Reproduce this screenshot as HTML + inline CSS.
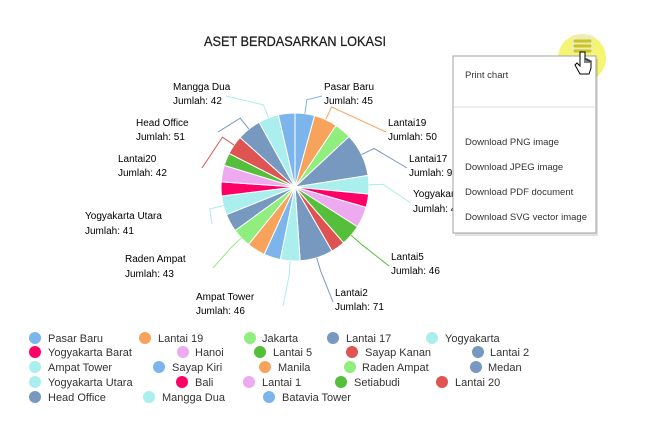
<!DOCTYPE html>
<html><head><meta charset="utf-8"><style>
body{margin:0;width:646px;height:422px;background:#fff;overflow:hidden;font-family:"Liberation Sans",sans-serif;}
svg{position:absolute;left:0;top:0}
</style></head><body>
<svg width="646" height="422" viewBox="0 0 646 422" xmlns="http://www.w3.org/2000/svg" font-family="Liberation Sans, sans-serif">
<text x="295" y="46" text-anchor="middle" font-size="14" fill="#222" stroke="#222" stroke-width="0.3" textLength="182" lengthAdjust="spacingAndGlyphs">ASET BERDASARKAN LOKASI</text>
<g id="pie"></g>
<g id="conn" fill="none" stroke-width="1"></g>
<g font-size="10" fill="#000">
<text x="173" y="90">Mangga Dua</text><text x="173" y="104">Jumlah: 42</text>
<text x="324" y="90">Pasar Baru</text><text x="324" y="104">Jumlah: 45</text>
<text x="388" y="126">Lantai19</text><text x="388" y="140">Jumlah: 50</text>
<text x="409" y="162">Lantai17</text><text x="409" y="176">Jumlah: 91</text>
<text x="413" y="197">Yogyakarta</text><text x="413" y="212">Jumlah: 45</text>
<text x="391" y="260">Lantai5</text><text x="391" y="274">Jumlah: 46</text>
<text x="335" y="296">Lantai2</text><text x="335" y="310">Jumlah: 71</text>
<text x="196" y="300">Ampat Tower</text><text x="196" y="314">Jumlah: 46</text>
<text x="125" y="262">Raden Ampat</text><text x="125" y="277">Jumlah: 43</text>
<text x="85" y="219">Yogyakarta Utara</text><text x="85" y="234">Jumlah: 41</text>
<text x="118" y="162">Lantai20</text><text x="118" y="176">Jumlah: 42</text>
<text x="136" y="126">Head Office</text><text x="136" y="140">Jumlah: 51</text>
</g>
<g id="legend" font-size="11" fill="#333"></g>
<circle cx="582" cy="58" r="24" fill="#f4f25a" opacity="0.85"/>
<rect x="572" y="35" width="21" height="18" fill="#e6e6e6" opacity="0.6"/>
<rect x="455" y="59" width="143" height="177" fill="#000" opacity="0.12"/>
<rect x="453" y="56" width="143" height="177" fill="#fff" stroke="#a0a0a0"/>
<line x1="454" y1="107" x2="595" y2="107" stroke="#ddd"/>
<g font-size="9.5" fill="#333">
<text x="465" y="78">Print chart</text>
<text x="465" y="145">Download PNG image</text>
<text x="465" y="170">Download JPEG image</text>
<text x="465" y="195">Download PDF document</text>
<text x="465" y="220">Download SVG vector image</text>
</g>
<g stroke="#c9c420" stroke-width="3" stroke-linecap="round">
<line x1="575" y1="41" x2="590" y2="41"/><line x1="575" y1="46" x2="590" y2="46"/><line x1="575" y1="51" x2="590" y2="51"/>
</g>
<path d="M580 52 l0 14 l-3 -3 l-2 2 l5 9 l9 0 l2 -6 l0 -7 l-2 0 l0 2 l0 -3 l-2 0 l0 3 l0 -4 l-2 0 l0 4 l0 -11 z" fill="#fff" stroke="#000" stroke-width="1"/>
</svg>
<script>
var cx=295,cy=187,r=74;
var b=[0,15.4,33.7,47,81,95.5,106,122.5,139,150,176,191.5,204.6,219,234,248,263,274,287,297,312,331,347,360];
var cols=["#7cb5ec","#f7a35c","#90ee7e","#7798BF","#aaeeee","#ff0066","#eeaaee","#55BF3B","#DF5353","#7798BF","#aaeeee"];
function pt(a,rr){a=a*Math.PI/180;return [cx+rr*Math.sin(a),cy-rr*Math.cos(a)];}
var s="";
for(var i=0;i<b.length-1;i++){var p1=pt(b[i],r),p2=pt(b[i+1],r);var lg=(b[i+1]-b[i])>180?1:0;
s+='<path d="M'+cx+' '+cy+' L'+p1[0]+' '+p1[1]+' A'+r+' '+r+' 0 '+lg+' 1 '+p2[0]+' '+p2[1]+' Z" fill="'+cols[i%11]+'" stroke="#fff" stroke-width="1"/>';}
document.getElementById('pie').innerHTML=s;
var cn=[[21,226,96],[0,322,96],[1,386,132],[3,407,168],[4,411,203],[7,389,266],[9,333,302],[10,283,306],[13,213,268],[15,212,224],[19,202,168],[20,218,132]];
var c="";
cn.forEach(function(q){var i=q[0],m=(b[i]+b[i+1])/2;var p=pt(m,r),p2=pt(m,r+14);var col=cols[i%11];
c+='<polyline points="'+p[0]+','+p[1]+' '+p2[0]+','+p2[1]+' '+q[1]+','+q[2]+'" stroke="'+col+'"/>';});
document.getElementById('conn').innerHTML=c;
var L=[
[338,[[35,48,"Pasar Baru",0],[145,158,"Lantai 19",1],[250,262,"Jakarta",2],[333,346,"Lantai 17",3],[432,445,"Yogyakarta",4]]],
[352,[[35,48,"Yogyakarta Barat",5],[183,195,"Hanoi",6],[260,273,"Lantai 5",7],[352,365,"Sayap Kanan",8],[478,490,"Lantai 2",9]]],
[367,[[35,48,"Ampat Tower",10],[159,172,"Sayap Kiri",0],[265,278,"Manila",1],[350,362,"Raden Ampat",2],[476,488,"Medan",3]]],
[382,[[35,48,"Yogyakarta Utara",4],[182,195,"Bali",5],[249,262,"Lantai 1",6],[341,354,"Setiabudi",7],[442,455,"Lantai 20",8]]],
[397,[[35,48,"Head Office",9],[149,162,"Mangga Dua",10],[269,282,"Batavia Tower",0]]]];
var g="";
L.forEach(function(row){row[1].forEach(function(it){g+='<circle cx="'+it[0]+'" cy="'+row[0]+'" r="6" fill="'+cols[it[3]]+'"/><text x="'+it[1]+'" y="'+(row[0]+4)+'">'+it[2]+'</text>';});});
document.getElementById('legend').innerHTML=g;
</script>
</body></html>
